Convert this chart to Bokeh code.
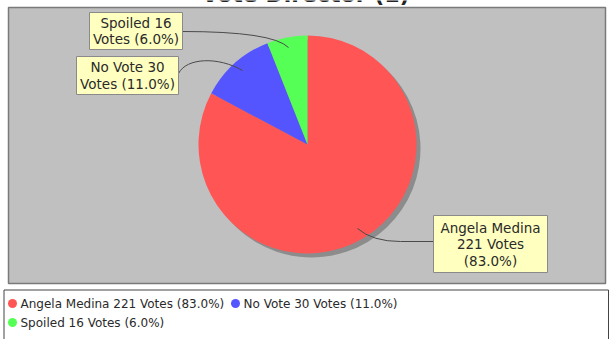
import math
from bokeh.plotting import figure
from bokeh.models import Range1d
from bokeh.core.properties import value
from bokeh.embed import file_html
from bokeh.resources import INLINE

# ---- data ----
title = "Vote Director (1)"
categories = ["Angela Medina", "No Vote", "Spoiled"]
votes = [221, 30, 16]
percent_labels = ["83.0%", "11.0%", "6.0%"]
colors = ["#ff5555", "#5555ff", "#55ff55"]

W, H = 610, 339
FONT = value("DejaVu Sans")


def Y(y):
    return H - y


p = figure(width=W, height=H, x_range=Range1d(0, W), y_range=Range1d(0, H),
           output_backend="svg", toolbar_location=None, min_border=0,
           x_axis_type=None, y_axis_type=None)
p.grid.visible = False
p.outline_line_color = None
p.background_fill_color = "white"
p.border_fill_color = "white"

# title (top clipped as in the reference)
p.text(x=[305], y=[Y(-6.5)], text=[title], text_font=FONT, text_font_size="22px",
       text_font_style="bold", text_align="center", text_baseline="alphabetic",
       text_color="#222222")

# plot area box
p.quad(left=[8], right=[605], bottom=[Y(283)], top=[Y(7)], fill_color="#c0c0c0",
       line_color="#7a7a7a", line_width=1.5)

# pie
cx, cy, r = 307, 144, 109
total = sum(votes)
cum = [0]
for v in votes:
    cum.append(cum[-1] + v)
starts = [math.pi / 2 - 2 * math.pi * cum[i] / total for i in range(len(votes))]
ends = [math.pi / 2 - 2 * math.pi * cum[i + 1] / total for i in range(len(votes))]

p.wedge(x=[cx + 4] * len(votes), y=[Y(cy + 4)] * len(votes), radius=r,
        start_angle=starts, end_angle=ends, direction="clock",
        fill_color="#8c8c8c", line_color=None)
p.wedge(x=[cx] * len(votes), y=[Y(cy)] * len(votes), radius=r,
        start_angle=starts, end_angle=ends, direction="clock",
        fill_color=colors, line_color=None)

# label links
link_col = "#4a4a4a"
p.quadratic(x0=[357], y0=[Y(228)], x1=[400], y1=[Y(241)], cx=[372], cy=[Y(241)],
            line_color=link_col, line_width=1)
p.line(x=[400, 433], y=[Y(241), Y(241)], line_color=link_col, line_width=1)
p.bezier(x0=[178], y0=[Y(73)], x1=[242], y1=[Y(70)], cx0=[186], cy0=[Y(57)],
         cx1=[218], cy1=[Y(56)], line_color=link_col, line_width=1)
p.quadratic(x0=[182], y0=[Y(31)], x1=[288], y1=[Y(47)], cx=[272], cy=[Y(31)],
            line_color=link_col, line_width=1)

# label boxes
boxes = {
    "Angela Medina": (433, 547, 215, 272),
    "No Vote": (76, 178, 56, 94),
    "Spoiled": (89, 182, 12, 49),
}
label_lines = {
    "Angela Medina": [f"{categories[0]}", f"{votes[0]} Votes", f"({percent_labels[0]})"],
    "No Vote": [f"{categories[1]} {votes[1]}", f"Votes ({percent_labels[1]})"],
    "Spoiled": [f"{categories[2]} {votes[2]}", f"Votes ({percent_labels[2]})"],
}
for cat in categories:
    l, rr, t, b = boxes[cat]
    p.quad(left=[l], right=[rr], top=[Y(t)], bottom=[Y(b)], fill_color="#ffffc0",
           line_color="#8a8a8a", line_width=1)
    lines = label_lines[cat]
    n = len(lines)
    mid = (t + b) / 2
    lh = 16.5
    ys = [Y(mid + (i - (n - 1) / 2) * lh) for i in range(n)]
    p.text(x=[(l + rr) / 2] * n, y=ys, text=lines, text_font=FONT,
           text_font_size="13.5px", text_align="center", text_baseline="middle",
           text_color="#2a2a2a")

# legend
p.quad(left=[3.5], right=[608], top=[Y(289.5)], bottom=[Y(345)], fill_color="white",
       line_color="#444444", line_width=1)
legend_pos = [(12, 303), (235, 303), (12, 322)]
legend_texts = [f"{c} {v} Votes ({pc})" for c, v, pc in zip(categories, votes, percent_labels)]
p.scatter(x=[a for a, _ in legend_pos], y=[Y(b) for _, b in legend_pos], size=9,
          marker="circle", fill_color=colors, line_color=None)
p.text(x=[a + 8 for a, _ in legend_pos], y=[Y(b) for _, b in legend_pos], text=legend_texts,
       text_font=FONT, text_font_size="12px", text_align="left", text_baseline="middle",
       text_color="#2a2a2a")

open("out.html", "w").write(file_html(p, INLINE))
